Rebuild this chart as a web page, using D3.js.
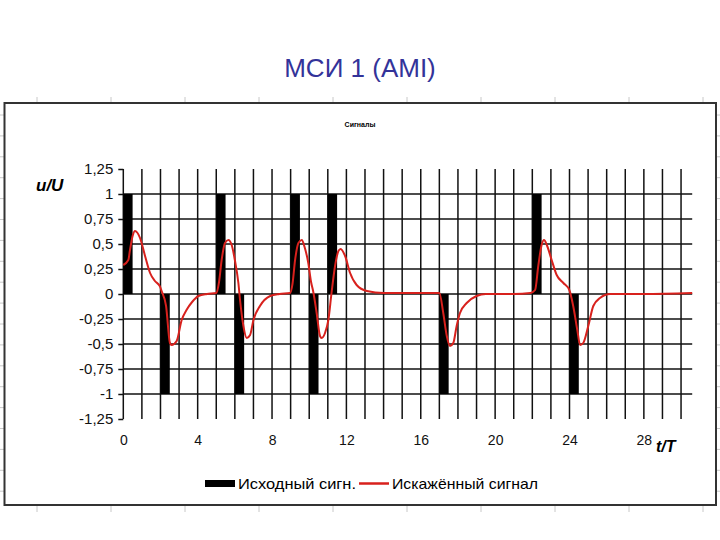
<!DOCTYPE html>
<html>
<head>
<meta charset="utf-8">
<script src="https://cdn.jsdelivr.net/npm/d3@7"></script>
<style>
  body { margin: 0; background: #fff; }
  svg { display: block; font-family: "Liberation Sans", Arial, sans-serif; }
</style>
</head>
<body>
<svg id="chart" width="720" height="540"></svg>
<script>
// AMI pulses: start time (t/T) and level, each 0.5 T wide
const pulseStarts = [0, 2, 5, 6, 9, 10, 11, 17, 22, 24];
const pulseLevels = [1, -1, 1, -1, 1, -1, 1, -1, 1, -1];
const pulseWidth = 0.5;

// distorted signal
const distT = [0, 0.27, 0.36, 0.5, 0.63, 0.9, 1.17, 1.44, 1.7, 1.97, 2.06, 2.3, 2.51, 2.6, 2.87, 3.14, 3.4, 3.7, 4.04, 4.5,
  5.0, 5.15, 5.29, 5.47, 5.65, 5.83, 6.0, 6.19, 6.28, 6.46, 6.64, 6.82, 7.0, 7.35, 7.9, 8.4, 8.97,
  9.1, 9.24, 9.42, 9.6, 9.75, 9.95, 10.1, 10.22, 10.4, 10.58, 10.67, 10.85, 11.03, 11.2, 11.39, 11.57, 11.69, 11.93,
  12.2, 12.55, 13.1, 14.0, 15.0, 16.0, 17.0, 17.21, 17.4, 17.57, 17.75, 17.93, 18.11, 18.47, 19.0, 19.5, 21.0, 21.9,
  22.15, 22.32, 22.5, 22.63, 22.78, 23.04, 23.31, 23.67, 23.99, 24.2, 24.42, 24.57, 24.74, 25.01, 25.28, 25.64, 26.18, 28.0, 30.6];
const distU = [0.29, 0.34, 0.44, 0.58, 0.63, 0.56, 0.38, 0.21, 0.13, 0.076, 0.03, -0.12, -0.49, -0.51, -0.47, -0.26, -0.16, -0.08, -0.02, 0,
  0.01, 0.12, 0.34, 0.51, 0.54, 0.49, 0.34, 0.11, -0.06, -0.32, -0.44, -0.41, -0.26, -0.12, -0.02, 0, 0.01,
  0.1, 0.34, 0.51, 0.54, 0.47, 0.31, 0.12, 0.02, -0.19, -0.42, -0.44, -0.39, -0.26, 0.01, 0.28, 0.43, 0.45, 0.38,
  0.21, 0.09, 0.03, 0.01, 0.01, 0.01, 0.01, -0.19, -0.42, -0.52, -0.49, -0.32, -0.19, -0.09, -0.02, 0, 0, 0.01,
  0.04, 0.28, 0.49, 0.54, 0.49, 0.34, 0.19, 0.11, 0.04, -0.12, -0.36, -0.51, -0.49, -0.32, -0.12, -0.04, 0, 0, 0.01];

const xTicks = [0, 4, 8, 12, 16, 20, 24, 28];
const yTicks = [-1.25, -1, -0.75, -0.5, -0.25, 0, 0.25, 0.5, 0.75, 1, 1.25];
const yGrid = [-1, -0.75, -0.5, -0.25, 0, 0.25, 0.5, 0.75, 1];
const xGrid = d3.range(0, 31);

const svg = d3.select('#chart');

const x = d3.scaleLinear().domain([0, 30.6]).range([123.3, 692.2]);
const y = d3.scaleLinear().domain([-1.25, 1.25]).range([419, 169]);

// page title
svg.append('text')
  .attr('x', 360).attr('y', 77)
  .attr('text-anchor', 'middle')
  .attr('font-size', 26)
  .attr('fill', '#333399')
  .text('МСИ 1 (AMI)');

// faint spreadsheet cell marks around the frame
const colMarks = d3.range(37, 720, 74);
const rowMarks = d3.range(115, 505, 20.9);
svg.append('g').attr('stroke', '#c8c8c8').attr('stroke-width', 1)
  .call((g) => {
    g.selectAll('.ct').data(colMarks).join('line')
      .attr('x1', (d) => d).attr('x2', (d) => d).attr('y1', 97).attr('y2', 103);
    g.selectAll('.cb').data(colMarks).join('line')
      .attr('x1', (d) => d).attr('x2', (d) => d).attr('y1', 506).attr('y2', 512);
    g.selectAll('.rl').data(rowMarks).join('line')
      .attr('x1', 0).attr('x2', 4).attr('y1', (d) => d).attr('y2', (d) => d);
    g.selectAll('.rr').data(rowMarks).join('line')
      .attr('x1', 716).attr('x2', 720).attr('y1', (d) => d).attr('y2', (d) => d);
  });

// chart frame
svg.append('rect')
  .attr('x', 4.5).attr('y', 103).attr('width', 711.5).attr('height', 402)
  .attr('fill', '#fff').attr('stroke', '#333').attr('stroke-width', 2);

svg.append('text')
  .attr('x', 360).attr('y', 127)
  .attr('text-anchor', 'middle')
  .attr('font-size', 7).attr('font-weight', 'bold')
  .text('Сигналы');

// grid
svg.append('g')
  .selectAll('line')
  .data(xGrid)
  .join('line')
  .attr('x1', (d) => x(d)).attr('x2', (d) => x(d))
  .attr('y1', y(1.25)).attr('y2', y(-1.25))
  .attr('stroke', '#111').attr('stroke-width', 1.5);

svg.append('g')
  .selectAll('line')
  .data(yGrid)
  .join('line')
  .attr('x1', x(0)).attr('x2', x(30.6))
  .attr('y1', (d) => y(d)).attr('y2', (d) => y(d))
  .attr('stroke', '#111').attr('stroke-width', 1.5);

// y axis ticks and labels
const yAxis = d3.axisLeft(y)
  .tickValues(yTicks)
  .tickSize(5)
  .tickPadding(5)
  .tickFormat((d) => String(d).replace('.', ','));
svg.append('g')
  .attr('transform', `translate(${x(0)},0)`)
  .call(yAxis)
  .call((g) => g.select('.domain').remove())
  .call((g) => g.selectAll('line').attr('stroke', '#111').attr('stroke-width', 1.5))
  .call((g) => g.selectAll('text').attr('font-size', 15).attr('fill', '#111')
    .attr('font-family', '"Liberation Sans", Arial, sans-serif'));

// x tick labels
const xAxis = d3.axisBottom(x).tickValues(xTicks).tickSize(0).tickPadding(16);
svg.append('g')
  .attr('transform', `translate(0,${y(-1.25)})`)
  .call(xAxis)
  .call((g) => g.select('.domain').remove())
  .call((g) => g.selectAll('text').attr('font-size', 14).attr('fill', '#111')
    .attr('font-family', '"Liberation Sans", Arial, sans-serif'));

// axis titles
svg.append('text')
  .attr('x', 36).attr('y', 191)
  .attr('font-size', 17).attr('font-weight', 'bold').attr('font-style', 'italic')
  .text('u/U');
svg.append('text')
  .attr('x', 656).attr('y', 452)
  .attr('font-size', 16).attr('font-weight', 'bold').attr('font-style', 'italic')
  .text('t/T');

// original pulses
const pulses = pulseStarts.map((t, i) => ({ t, v: pulseLevels[i] }));
svg.append('g')
  .selectAll('rect')
  .data(pulses)
  .join('rect')
  .attr('x', (d) => x(d.t))
  .attr('width', (d) => x(d.t + pulseWidth) - x(d.t))
  .attr('y', (d) => y(Math.max(0, d.v)))
  .attr('height', (d) => Math.abs(y(d.v) - y(0)))
  .attr('fill', '#000');

// distorted signal
const dist = distT.map((t, i) => [t, distU[i]]);
svg.append('path')
  .datum(dist)
  .attr('fill', 'none')
  .attr('stroke', '#d8211d')
  .attr('stroke-width', 2)
  .attr('d', d3.line().x((d) => x(d[0])).y((d) => y(d[1])).curve(d3.curveMonotoneX));

// legend
const legend = svg.append('g').attr('font-size', 15);
legend.append('rect').attr('x', 205).attr('y', 480).attr('width', 30).attr('height', 7).attr('fill', '#000');
legend.append('text').attr('x', 238).attr('y', 489)
  .attr('textLength', 118).attr('lengthAdjust', 'spacingAndGlyphs')
  .text('Исходный сигн.');
legend.append('line').attr('x1', 359).attr('x2', 389).attr('y1', 483.5).attr('y2', 483.5)
  .attr('stroke', '#d8211d').attr('stroke-width', 2.5);
legend.append('text').attr('x', 392).attr('y', 489)
  .attr('textLength', 146).attr('lengthAdjust', 'spacingAndGlyphs')
  .text('Искажённый сигнал');
</script>
</body>
</html>
